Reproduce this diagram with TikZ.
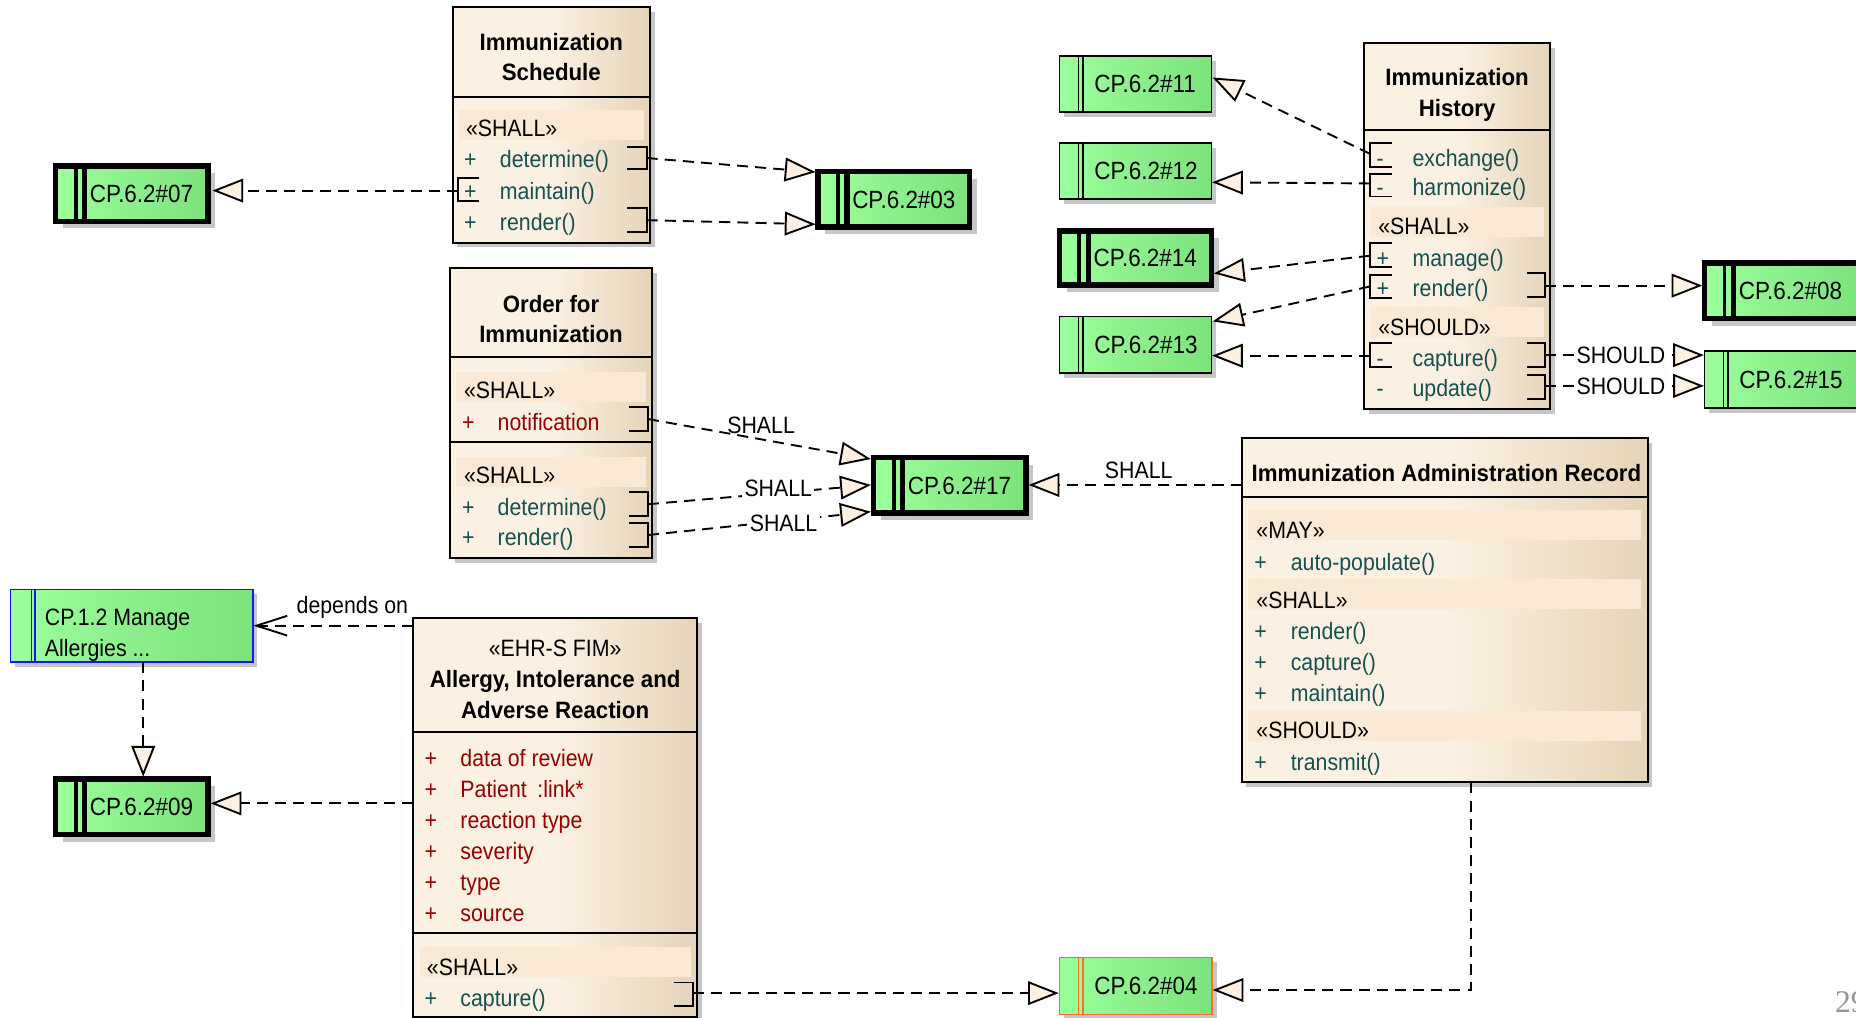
\documentclass[tikz,border=0pt]{standalone}
\usepackage{fontspec}
\setmainfont{Liberation Sans}[FakeStretch=0.9]
\newfontfamily\boldf{Liberation Sans}[FakeStretch=0.94]
\newfontfamily\seriff{Liberation Serif}
\usetikzlibrary{arrows.meta}
\definecolor{creamL}{RGB}{251,241,227}
\definecolor{creamR}{RGB}{230,212,184}
\definecolor{bandc}{RGB}{250,233,212}
\definecolor{greenL}{RGB}{155,255,155}
\definecolor{greenR}{RGB}{124,226,124}
\definecolor{shadowc}{RGB}{198,198,198}
\definecolor{tealc}{RGB}{22,80,80}
\definecolor{redc}{RGB}{150,0,0}
\definecolor{arrowfill}{RGB}{251,240,225}
\definecolor{orangec}{RGB}{255,110,40}
\definecolor{bluec}{RGB}{20,20,255}
\definecolor{pagegray}{RGB}{150,150,150}

\tikzset{
  txt/.style={inner sep=0pt, outer sep=0pt, text height=10.7pt, text depth=0pt, font=\fontsize{15}{18}\selectfont},
  cptxt/.style={inner sep=0pt, outer sep=0pt, text height=11.2pt, text depth=0pt, font=\fontsize{15.8}{18}\selectfont},
  ttl/.style={txt, font=\boldf\bfseries\fontsize{15}{18}\selectfont},
  stereo/.style={txt, anchor=west},
  lbl/.style={txt},
  lblw/.style={txt, fill=white, inner xsep=1.5pt},
  cls/.style={draw, line width=1.2pt, inner sep=0pt, outer sep=0pt, anchor=north west,
              left color=creamL, right color=creamR, middle color=creamL},
  cpnode/.style={draw, inner sep=0pt, outer sep=0pt, anchor=north west, left color=greenL, right color=greenR},
  sepline/.style={line width=1.2pt},
  brk/.style={line width=1.2pt},
  realarrow/.style={line width=1.2pt, dash pattern=on 7pt off 4.5pt,
     -{Triangle[length=19.5pt, width=15pt, fill=arrowfill]}},
  deparrow/.style={line width=1.2pt, dash pattern=on 7pt off 4.5pt,
     -{Straight Barb[length=19.5pt, width=12.5pt]}},
}

\newcommand\clsbox[5]{%
  \fill[shadowc] ({#2+4},{#3+4}) rectangle ({#4+4},{#5+4});
  \node[cls, minimum width={(#4-#2)*0.75pt}, minimum height={(#5-#3)*0.75pt}] (#1) at (#2,#3) {};}
\newcommand\cpthick[6]{%
  \fill[shadowc] ({#2+6},{#3+6}) rectangle ({#4+6},{#5+6});
  \node[cpnode, line width=3.6pt, minimum width={(#4-#2)*0.75pt}, minimum height={(#5-#3)*0.75pt}] (#1) at (#2,#3) {};
  \draw[line width=2.5pt] ({#2+16.9},#3) -- ({#2+16.9},#5);
  \draw[line width=3.5pt] ({#2+24.5},#3) -- ({#2+24.5},#5);
  \node[cptxt, anchor=west] (#1-t) at ({#2+29},{(#3+#5)/2}) {#6};}
\newcommand\cpthin[7]{%
  \fill[shadowc] ({#2+4},{#3+4}) rectangle ({#4+4},{#5+4});
  \node[cpnode, draw=#6, line width=1pt, minimum width={(#4-#2)*0.75pt}, minimum height={(#5-#3)*0.75pt}] (#1) at (#2,#3) {};
  \draw[#6, line width=0.9pt] ({#2+16},#3) -- ({#2+16},#5);
  \draw[#6, line width=0.9pt] ({#2+20},#3) -- ({#2+20},#5);
  \node[cptxt, anchor=west] (#1-t) at ({#2+29.5},{(#3+#5)/2}) {#7};}
\newcommand\mrow[7]{%
  \node[txt, anchor=west, text=#7] (#1-s) at (#2,#4) {#5};
  \node[txt, anchor=west, text=#7] (#1) at (#3,#4) {#6};}
\newcommand\rbr[4]{\draw[brk] (#1,#3) -- (#2,#3) -- (#2,#4) -- (#1,#4);}
\newcommand\lbr[4]{\draw[brk] (#2,#3) -- (#1,#3) -- (#1,#4) -- (#2,#4);}

\begin{document}
\begin{tikzpicture}[x=0.75pt, y=-0.75pt]
\useasboundingbox (0,0) rectangle (1568,860);

% ---------------- Immunization Schedule
\clsbox{sch}{382.4}{6.2}{549.1}{205}
\node[ttl] (sch-t1) at (465.75,35.8) {Immunization};
\node[ttl] (sch-t2) at (465.75,60.5) {Schedule};
\draw[sepline] (382.4,81.7) -- (549.1,81.7);
\fill[bandc] (387,93) rectangle (544,118);
\node[stereo] (sch-st) at (393.7,108) {«SHALL»};
\mrow{sch-r1}{392}{422.4}{134.5}{+}{determine()}{tealc}
\mrow{sch-r2}{392}{422.4}{161}{+}{maintain()}{tealc}
\mrow{sch-r3}{392}{422.4}{187.5}{+}{render()}{tealc}
\rbr{530}{546.3}{124}{143}
\rbr{530}{546.3}{176}{195.7}
\lbr{387.2}{405}{150.5}{170}

% ---------------- Order for Immunization
\clsbox{ord}{380}{226.7}{551}{471.7}
\node[ttl] (ord-t1) at (465.5,257) {Order for};
\node[ttl] (ord-t2) at (465.5,282.4) {Immunization};
\draw[sepline] (380,301.9) -- (551,301.9);
\draw[sepline] (380,373.7) -- (551,373.7);
\fill[bandc] (385.3,314) rectangle (545.6,339.4);
\fill[bandc] (385.3,385.8) rectangle (545.6,411.2);
\node[stereo] (ord-st1) at (392,329.5) {«SHALL»};
\node[stereo] (ord-st2) at (392,401.3) {«SHALL»};
\mrow{ord-r1}{390.4}{420.5}{356.2}{+}{notification}{redc}
\mrow{ord-r2}{390.4}{420.5}{428}{+}{determine()}{tealc}
\mrow{ord-r3}{390.4}{420.5}{454}{+}{render()}{tealc}
\rbr{531.6}{547.4}{344}{364}
\rbr{531.6}{547.4}{416}{436}
\rbr{531.6}{547.4}{442}{462}

% ---------------- Immunization History
\clsbox{ih}{1152.3}{36.6}{1309.5}{345.5}
\node[ttl] (ih-t1) at (1231,64.8) {Immunization};
\node[ttl] (ih-t2) at (1231,91.5) {History};
\draw[sepline] (1152.3,109.8) -- (1309.5,109.8);
\fill[bandc] (1157.4,174.6) rectangle (1304.4,200.5);
\fill[bandc] (1157.4,259.6) rectangle (1304.4,285);
\node[stereo] (ih-st1) at (1164.4,191) {«SHALL»};
\node[stereo] (ih-st2) at (1164.4,276) {«SHOULD»};
\mrow{ih-r1}{1163}{1193.4}{133.2}{-}{exchange()}{tealc}
\mrow{ih-r2}{1163}{1193.4}{157.7}{-}{harmonize()}{tealc}
\mrow{ih-r3}{1163}{1193.4}{217.7}{+}{manage()}{tealc}
\mrow{ih-r4}{1163}{1193.4}{243}{+}{render()}{tealc}
\mrow{ih-r5}{1163}{1193.4}{302.7}{-}{capture()}{tealc}
\mrow{ih-r6}{1163}{1193.4}{328}{-}{update()}{tealc}
\lbr{1157.4}{1175.7}{121}{141}
\lbr{1157.4}{1175.7}{147}{166}
\lbr{1157.4}{1175.7}{205.6}{225.8}
\lbr{1157.4}{1175.7}{232.3}{252}
\lbr{1157.4}{1175.7}{290}{310}
\rbr{1289.8}{1305.2}{231}{251}
\rbr{1289.8}{1305.2}{290}{310}
\rbr{1289.8}{1305.2}{317}{337}

% ---------------- Immunization Administration Record
\clsbox{iar}{1049}{370.3}{1392}{661}
\node[ttl] (iar-t) at (1222,399.9) {Immunization Administration Record};
\draw[sepline] (1049,419.6) -- (1392,419.6);
\fill[bandc] (1054.3,430.9) rectangle (1386,456.2);
\fill[bandc] (1054.3,489.4) rectangle (1386,514.7);
\fill[bandc] (1054.3,600.7) rectangle (1386,626);
\node[stereo] (iar-st1) at (1061.5,447.7) {«MAY»};
\node[stereo] (iar-st2) at (1061.5,506.9) {«SHALL»};
\node[stereo] (iar-st3) at (1061.5,616.7) {«SHOULD»};
\mrow{iar-r1}{1059.7}{1090.5}{474.5}{+}{auto-populate()}{tealc}
\mrow{iar-r2}{1059.7}{1090.5}{533}{+}{render()}{tealc}
\mrow{iar-r3}{1059.7}{1090.5}{559.5}{+}{capture()}{tealc}
\mrow{iar-r4}{1059.7}{1090.5}{585.7}{+}{maintain()}{tealc}
\mrow{iar-r5}{1059.7}{1090.5}{643.5}{+}{transmit()}{tealc}

% ---------------- Allergy, Intolerance and Adverse Reaction
\clsbox{all}{349}{522.4}{588.8}{859}
\node[txt] (all-st) at (469,547.7) {«EHR-S FIM»};
\node[ttl] (all-t1) at (469,573.6) {Allergy, Intolerance and};
\node[ttl] (all-t2) at (469,599.8) {Adverse Reaction};
\draw[sepline] (349,618.7) -- (588.8,618.7);
\draw[sepline] (349,787.9) -- (588.8,787.9);
\mrow{all-r1}{358.8}{389}{640.6}{+}{data of review}{redc}
\mrow{all-r2}{358.8}{389}{666.8}{+}{Patient\hspace{0.45em}:link*}{redc}
\mrow{all-r3}{358.8}{389}{692.7}{+}{reaction type}{redc}
\mrow{all-r4}{358.8}{389}{719}{+}{severity}{redc}
\mrow{all-r5}{358.8}{389}{745.4}{+}{type}{redc}
\mrow{all-r6}{358.8}{389}{771.6}{+}{source}{redc}
\fill[bandc] (354.8,799.8) rectangle (583.8,825);
\node[stereo] (all-st2) at (360.7,816.7) {«SHALL»};
\mrow{all-r7}{358.8}{389}{843.4}{+}{capture()}{tealc}
\rbr{569}{585.7}{830}{850}

% ---------------- CP boxes
\cpthick{cp07}{47}{140}{176}{187}{CP.6.2\#07}
\cpthick{cp09}{47}{658}{176}{705}{CP.6.2\#09}
\cpthick{cp03}{691}{145}{819}{192}{CP.6.2\#03}
\cpthick{cp17}{738}{386.5}{867}{433.5}{CP.6.2\#17}
\cpthick{cp14}{895}{195}{1023.5}{240.5}{CP.6.2\#14}
\cpthick{cp08}{1440}{222}{1572}{269}{CP.6.2\#08}
\cpthin{cp11}{895}{47.5}{1023.5}{94.5}{black}{CP.6.2\#11}
\cpthin{cp12}{895}{121}{1023.5}{168}{black}{CP.6.2\#12}
\cpthin{cp13}{895}{267.5}{1023.5}{315}{black}{CP.6.2\#13}
\cpthin{cp15}{1440}{296.5}{1572}{344.5}{black}{CP.6.2\#15}
\cpthin{cp04}{895}{809}{1024}{857}{orangec}{CP.6.2\#04}
% CP.1.2
\fill[shadowc] (13,502) rectangle (217.5,563.5);
\node[cpnode, draw=bluec, line width=1pt, minimum width={204.5*0.75pt}, minimum height={61.5*0.75pt}] (cp12m) at (9,498) {};
\draw[bluec, line width=0.9pt] (26.5,498) -- (26.5,559.5);
\draw[bluec, line width=0.9pt] (29.5,498) -- (29.5,559.5);
\node[txt, anchor=west] (cp12m-t1) at (38,521) {CP.1.2 Manage};
\node[txt, anchor=west] (cp12m-t2) at (38,547.7) {Allergies ...};

% ---------------- connector end points
\coordinate (a-sch-maint) at (387.2,161);
\coordinate (a-sch-det) at (546.3,133.5);
\coordinate (a-sch-ren) at (546.3,186);
\coordinate (a-ord-not) at (547.4,354);
\coordinate (a-ord-det) at (547.4,426);
\coordinate (a-ord-ren) at (547.4,452);
\coordinate (a-iar-w) at (1049,409.7);
\coordinate (a-iar-b) at (1242.4,661);
\coordinate (a-all-cap) at (585.7,839);
\coordinate (a-all-w1) at (349,678.7);
\coordinate (a-all-w2) at (349,528.6);
\coordinate (a-cp12m-s) at (121,559.5);
\coordinate (a-ih-exc) at (1157.4,130);
\coordinate (a-ih-har) at (1157.4,155);
\coordinate (a-ih-man) at (1157.4,216);
\coordinate (a-ih-renl) at (1157.4,242);
\coordinate (a-ih-cap) at (1157.4,300.5);
\coordinate (a-ih-renr) at (1305.2,241.3);
\coordinate (a-ih-capr) at (1305.2,300);
\coordinate (a-ih-upd) at (1305.2,326);

\coordinate (t07) at (179.5,161);
\coordinate (t03a) at (689,145.4);
\coordinate (t03b) at (689,189.5);
\coordinate (t17a) at (735.8,387.8);
\coordinate (t17b) at (735.8,409.7);
\coordinate (t17c) at (735.8,432.3);
\coordinate (t17d) at (869,409.7);
\coordinate (t04a) at (1024.5,836.4);
\coordinate (t04b) at (894.5,839);
\coordinate (t09a) at (178,678.7);
\coordinate (t12m) at (214,528.6);
\coordinate (t09b) at (121,656.2);
\coordinate (t11) at (1024.5,65.5);
\coordinate (t12) at (1024,154);
\coordinate (t14) at (1025.5,231);
\coordinate (t13a) at (1024.5,271.5);
\coordinate (t13b) at (1024,300.5);
\coordinate (t08) at (1438.2,241.3);
\coordinate (t15a) at (1439.5,300);
\coordinate (t15b) at (1439.5,326);

% ---------------- connectors
\draw[realarrow] (a-sch-maint) -- (t07);
\draw[realarrow] (a-sch-det) -- (t03a);
\draw[realarrow] (a-sch-ren) -- (t03b);
\draw[realarrow] (a-ord-not) -- (t17a);
\draw[realarrow] (a-ord-det) -- (t17b);
\draw[realarrow] (a-ord-ren) -- (t17c);
\draw[realarrow] (a-iar-w) -- (t17d);
\draw[realarrow] (a-iar-b) |- (t04a);
\draw[realarrow] (a-all-cap) -- (t04b);
\draw[realarrow] (a-all-w1) -- (t09a);
\draw[deparrow] (a-all-w2) -- (t12m);
\draw[realarrow] (a-cp12m-s) -- (t09b);
\draw[realarrow] (a-ih-exc) -- (t11);
\draw[realarrow] (a-ih-har) -- (t12);
\draw[realarrow] (a-ih-man) -- (t14);
\draw[realarrow] (a-ih-renl) -- (t13a);
\draw[realarrow] (a-ih-cap) -- (t13b);
\draw[realarrow] (a-ih-renr) -- (t08);
\draw[realarrow] (a-ih-capr) -- (t15a);
\draw[realarrow] (a-ih-upd) -- (t15b);

% ---------------- connector labels
\node[lbl] (l-not) at (643,359) {SHALL};
\node[lblw] (l-det) at (657.5,412.5) {SHALL};
\node[lblw] (l-ren) at (662,442) {SHALL};
\node[lbl] (l-iar) at (962,397) {SHALL};
\node[lblw] (l-cap) at (1369.4,300) {SHOULD};
\node[lblw] (l-upd) at (1369.4,326) {SHOULD};
\node[lbl] (l-dep) at (297.7,511) {depends on};

% page number (cut at the edge)
\node[inner sep=0pt, anchor=west, text=pagegray, font=\seriff\fontsize{20}{22}\selectfont] (pg) at (1550,847) {29};
\end{tikzpicture}
\end{document}
